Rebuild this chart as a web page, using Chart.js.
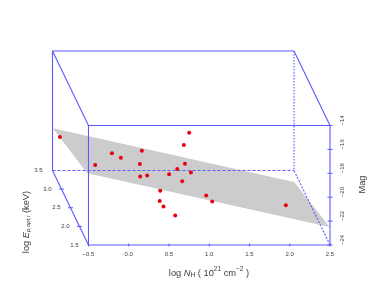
<!DOCTYPE html>
<html>
<head>
<meta charset="utf-8">
<script src="https://cdn.jsdelivr.net/npm/chart.js@4"></script>
<style>
  html, body { margin: 0; padding: 0; background: #fff; }
  #wrap { width: 374px; height: 307px; }
</style>
</head>
<body>
<div id="wrap"><canvas id="grafico"></canvas></div>
<script>
// Puntos proyectados sobre el plano frontal de la caja (log NH, Mag)
const puntosNH = [-0.855, -0.417, -0.209, -0.098, 0.163, 0.139, 0.142, 0.229, 0.751, 0.685, 0.698,
    0.602, 0.502, 0.772, 0.664, 0.391, 0.385, 0.432, 0.577, 0.962, 1.037, 1.952];
const puntosMag = [-14.97, -17.31, -16.33, -16.70, -16.11, -17.23, -18.26, -18.18, -14.60, -15.64, -17.21,
    -17.65, -18.07, -17.93, -18.66, -19.47, -20.31, -20.78, -21.53, -19.86, -20.36, -20.67];

// Plano ajustado (gris)
const planoNH = [-0.942, 2.055, 2.496, -0.516, -0.942];
const planoMag = [-14.23, -18.72, -22.49, -17.99, -14.23];

// Ejes
const ticksNH = [-0.5, 0, 0.5, 1, 1.5, 2, 2.5];
const ticksMag = [-24, -22, -20, -18, -16, -14];
const ticksE = [1.5, 2, 2.5, 3, 3.5];

// Desplazamiento de la cara trasera de la caja, en unidades de los ejes
const fondoNH = -0.447;
const fondoMag = 6.234;

const AZUL = '#5a5aff';
const TEXTO = '#3c3c3c';
const FUENTE = '"Liberation Sans", Arial, sans-serif';

const xIni = ticksNH[0], xFin = ticksNH[ticksNH.length - 1];
const yIni = ticksMag[0], yFin = ticksMag[ticksMag.length - 1];

function tramo(puntos, dash) {
    return {
        type: 'scatter',
        data: puntos.map(p => ({ x: p[0], y: p[1] })),
        showLine: true,
        borderColor: AZUL,
        borderWidth: 1.1,
        borderDash: dash || [],
        pointRadius: 0,
        order: 1,
        clip: false
    };
}

// Posicion sobre la arista inferior izquierda para un valor de log E
function proyectarE(valor) {
    const t = (valor - ticksE[0]) / (ticksE[ticksE.length - 1] - ticksE[0]);
    return { x: xIni + fondoNH * t, y: yIni + fondoMag * t };
}

// Texto con sub/superindices y cursiva
const tituloX = [
    { t: 'log ' }, { t: 'N', i: 1 }, { t: 'H', s: 6.5, dy: 2 }, { t: ' ( 10' },
    { t: '21', s: 6.5, dy: -3.5 }, { t: ' cm' }, { t: '\u22122', s: 6.5, dy: -3.5 }, { t: ' )' }
];
const tituloE = [
    { t: 'log ' }, { t: 'E', i: 1 }, { t: 'p,opt,i', s: 6, dy: 2, i: 1 }, { t: ' (keV)' }
];
const tituloMag = [{ t: 'Mag' }];

function textoRico(ctx, partes, cx, cy, giro) {
    const fuente = p => `${p.i ? 'italic ' : ''}${p.s || 9.3}px ${FUENTE}`;
    let total = 0;
    partes.forEach(p => { ctx.font = fuente(p); total += ctx.measureText(p.t).width; });
    ctx.save();
    ctx.translate(cx, cy);
    ctx.rotate(giro);
    ctx.fillStyle = TEXTO;
    ctx.textAlign = 'left';
    ctx.textBaseline = 'middle';
    let x = -total / 2;
    partes.forEach(p => {
        ctx.font = fuente(p);
        ctx.fillText(p.t, x, p.dy || 0);
        x += ctx.measureText(p.t).width;
    });
    ctx.restore();
}

const ejes3d = {
    id: 'ejes3d',
    afterDraw(chart) {
        const ctx = chart.ctx;
        const sx = chart.scales.x, sy = chart.scales.y;
        ctx.save();
        ctx.strokeStyle = AZUL;
        ctx.lineWidth = 1;

        // Marcas que cruzan los ejes
        const marca = (x1, y1, x2, y2) => {
            ctx.beginPath();
            ctx.moveTo(x1, y1);
            ctx.lineTo(x2, y2);
            ctx.stroke();
        };
        ticksNH.forEach(v => {
            const px = sx.getPixelForValue(v);
            marca(px, sy.bottom - 1.5, px, sy.bottom + 1.5);
        });
        ticksMag.forEach(v => {
            const py = sy.getPixelForValue(v);
            marca(sx.right - 2.5, py, sx.right + 2.5, py);
        });

        // Eje de profundidad (log E)
        ctx.font = `6px ${FUENTE}`;
        ctx.fillStyle = TEXTO;
        ctx.textAlign = 'right';
        ctx.textBaseline = 'middle';
        ticksE.forEach(v => {
            const p = proyectarE(v);
            const px = sx.getPixelForValue(p.x), py = sy.getPixelForValue(p.y);
            if (v !== ticksE[0] && v !== ticksE[ticksE.length - 1]) {
                marca(px - 2.5, py, px + 2.5, py);
            }
            ctx.fillText(v.toFixed(1), px - 10, py);
        });
        ctx.restore();

        textoRico(ctx, tituloX, 209, 273, 0);
        textoRico(ctx, tituloE, 26, 222, -Math.PI / 2);
        textoRico(ctx, tituloMag, 362, 184.5, -Math.PI / 2);
    }
};

const delante = [[xIni, yIni], [xFin, yIni], [xFin, yFin], [xIni, yFin], [xIni, yIni]];
const atrasIzq = [[xIni + fondoNH, yIni + fondoMag], [xIni + fondoNH, yFin + fondoMag], [xFin + fondoNH, yFin + fondoMag]];
const atrasDer = [[xFin + fondoNH, yFin + fondoMag], [xFin + fondoNH, yIni + fondoMag]];
const atrasAbajo = [[xIni + fondoNH, yIni + fondoMag], [xFin + fondoNH, yIni + fondoMag]];
const aristaE = [proyectarE(ticksE[0]), proyectarE(ticksE[ticksE.length - 1])].map(p => [p.x, p.y]);

new Chart(document.getElementById('grafico'), {
    type: 'scatter',
    data: {
        datasets: [
            {
                // puntos encima de todo
                data: puntosNH.map((x, i) => ({ x, y: puntosMag[i] })),
                backgroundColor: '#e60012',
                borderWidth: 0,
                pointRadius: 2,
                order: 0,
                clip: false
            },
            tramo(delante),
            tramo(atrasIzq),
            tramo([[xIni, yFin], [xIni + fondoNH, yFin + fondoMag]]),
            tramo([[xFin, yFin], [xFin + fondoNH, yFin + fondoMag]]),
            tramo(atrasDer, [1.5, 1.5]),
            tramo(atrasAbajo, [3, 2]),
            tramo(aristaE),
            tramo([[xFin, yIni], [xFin + fondoNH, yIni + fondoMag]], [2, 1.5]),
            {
                data: planoNH.map((x, i) => ({ x, y: planoMag[i] })),
                showLine: true,
                fill: 'shape',
                backgroundColor: '#cccccc',
                borderWidth: 0,
                pointRadius: 0,
                order: 2,
                clip: false
            }
        ]
    },
    options: {
        responsive: true,
        maintainAspectRatio: false,
        animation: false,
        layout: { autoPadding: false, padding: { left: 52.5, right: 24, top: 51, bottom: 0 } },
        plugins: { legend: { display: false }, tooltip: { enabled: false } },
        scales: {
            x: {
                type: 'linear',
                min: xIni + fondoNH,
                max: xFin,
                afterFit(s) { s.height = 62; },
                afterBuildTicks(s) { s.ticks = ticksNH.map(value => ({ value })); },
                grid: { display: false, drawTicks: false },
                border: { display: false },
                ticks: {
                    autoSkip: false,
                    maxRotation: 0,
                    padding: 6,
                    color: TEXTO,
                    font: { size: 6, family: FUENTE },
                    callback: v => v.toFixed(1).replace('-', '\u2212')
                }
            },
            y: {
                type: 'linear',
                position: 'right',
                min: yIni,
                max: yFin + fondoMag,
                afterFit(s) { s.width = 20; },
                afterBuildTicks(s) { s.ticks = ticksMag.map(value => ({ value })); },
                grid: { display: false, drawTicks: false },
                border: { display: false },
                ticks: {
                    autoSkip: false,
                    minRotation: 90,
                    maxRotation: 90,
                    padding: 12,
                    color: TEXTO,
                    font: { size: 6, family: FUENTE },
                    callback: v => '\u2212' + Math.abs(v)
                }
            }
        }
    },
    plugins: [ejes3d]
});
</script>
</body>
</html>
